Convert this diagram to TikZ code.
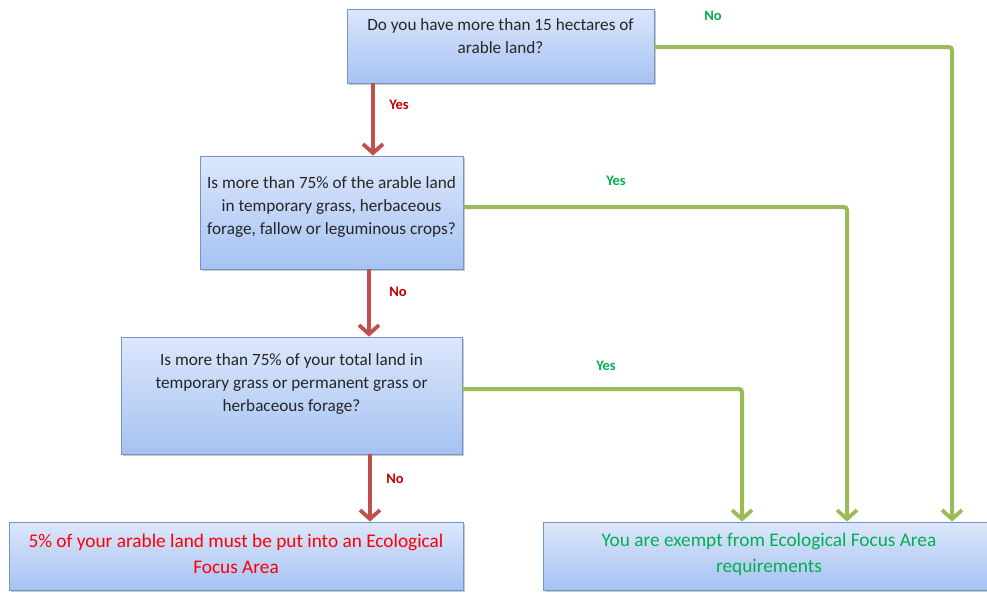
\documentclass[tikz,border=0pt]{standalone}
\usepackage{fontspec}
\setmainfont{Carlito}
\usetikzlibrary{arrows.meta,shadows}
\definecolor{boxtop}{HTML}{DCE7FB}
\definecolor{boxbot}{HTML}{A6C2F2}
\definecolor{boxline}{HTML}{7393C9}
\definecolor{redarr}{HTML}{C0504D}
\definecolor{greenarr}{HTML}{9BBB59}
\definecolor{redlab}{HTML}{C00000}
\definecolor{greenlab}{HTML}{00B050}
\definecolor{redtxt}{HTML}{FF0000}
\tikzset{
  box/.style={draw=boxline, line width=0.8pt, top color=boxtop, bottom color=boxbot,
    drop shadow={shadow xshift=1.5pt, shadow yshift=-1.5pt, opacity=0.35, fill=black!60}, inner sep=0pt},
  qtext/.style={align=center, font=\fontsize{17.2}{23}\selectfont, text=black!85},
  rtext/.style={align=center, font=\fontsize{19.3}{26}\selectfont},
  lab/.style={font=\fontsize{14.5}{16}\selectfont\bfseries},
  redflow/.style={draw=redarr, line width=4pt, -{Straight Barb[length=9pt,width=20pt,line width=3.8pt]}},
  greenflow/.style={draw=greenarr, line width=4pt, rounded corners=3pt, -{Straight Barb[length=9pt,width=20pt,line width=3.8pt]}},
}
\begin{document}
\begin{tikzpicture}[x=1pt,y=-1pt]
\useasboundingbox (0,0) rectangle (987,592);
% boxes
\node[box, minimum width=307pt, minimum height=74pt] (q1) at (500.5,46) {};
\node[box, minimum width=263pt, minimum height=113pt] (q2) at (331.5,212.5) {};
\node[box, minimum width=341pt, minimum height=117pt] (q3) at (291.5,395.5) {};
\node[box, minimum width=454pt, minimum height=68pt] (r1) at (236,556) {};
\node[box, minimum width=446pt, minimum height=68pt] (r2) at (766,556) {};
% texts
\node[qtext] (q1t) at (500.5,36) {Do you have more than 15 hectares of\\arable land?};
\node[qtext] (q2t) at (331.5,207) {Is more than 75\% of the arable land\\in temporary grass, herbaceous\\forage, fallow or leguminous crops?};
\node[qtext] (q3t) at (291.5,383.5) {Is more than 75\% of your total land in\\temporary grass or permanent grass or\\herbaceous forage?};
\node[rtext, text=redtxt] (r1t) at (236,554) {5\% of your arable land must be put into an Ecological\\Focus Area};
\node[rtext, text=greenlab] (r2t) at (769,554) {You are exempt from Ecological Focus Area\\requirements};
% coordinates
\coordinate (c1) at (952,47);
\coordinate (c2) at (847,207);
\coordinate (c3) at (742,389);
% red flow
\draw[redflow] (q1.south -| 373,0) -- (q2.north -| 373,0);
\draw[redflow] (q2.south -| 369,0) -- (q3.north -| 369,0);
\draw[redflow] (q3.south -| 370,0) -- (r1.north -| 370,0);
% green flow
\draw[greenflow] (q1.east |- c1) -- (c1) -- (r2.north -| c1);
\draw[greenflow] (q2.east |- c2) -- (c2) -- (r2.north -| c2);
\draw[greenflow] (q3.east |- c3) -- (c3) -- (r2.north -| c3);
% labels
\node[lab, text=redlab] (l1) at (399,105) {Yes};
\node[lab, text=redlab] (l2) at (398,292) {No};
\node[lab, text=redlab] (l3) at (395,479) {No};
\node[lab, text=greenlab] (l4) at (713,16) {No};
\node[lab, text=greenlab] (l5) at (616,181) {Yes};
\node[lab, text=greenlab] (l6) at (606,366) {Yes};
\end{tikzpicture}
\end{document}
